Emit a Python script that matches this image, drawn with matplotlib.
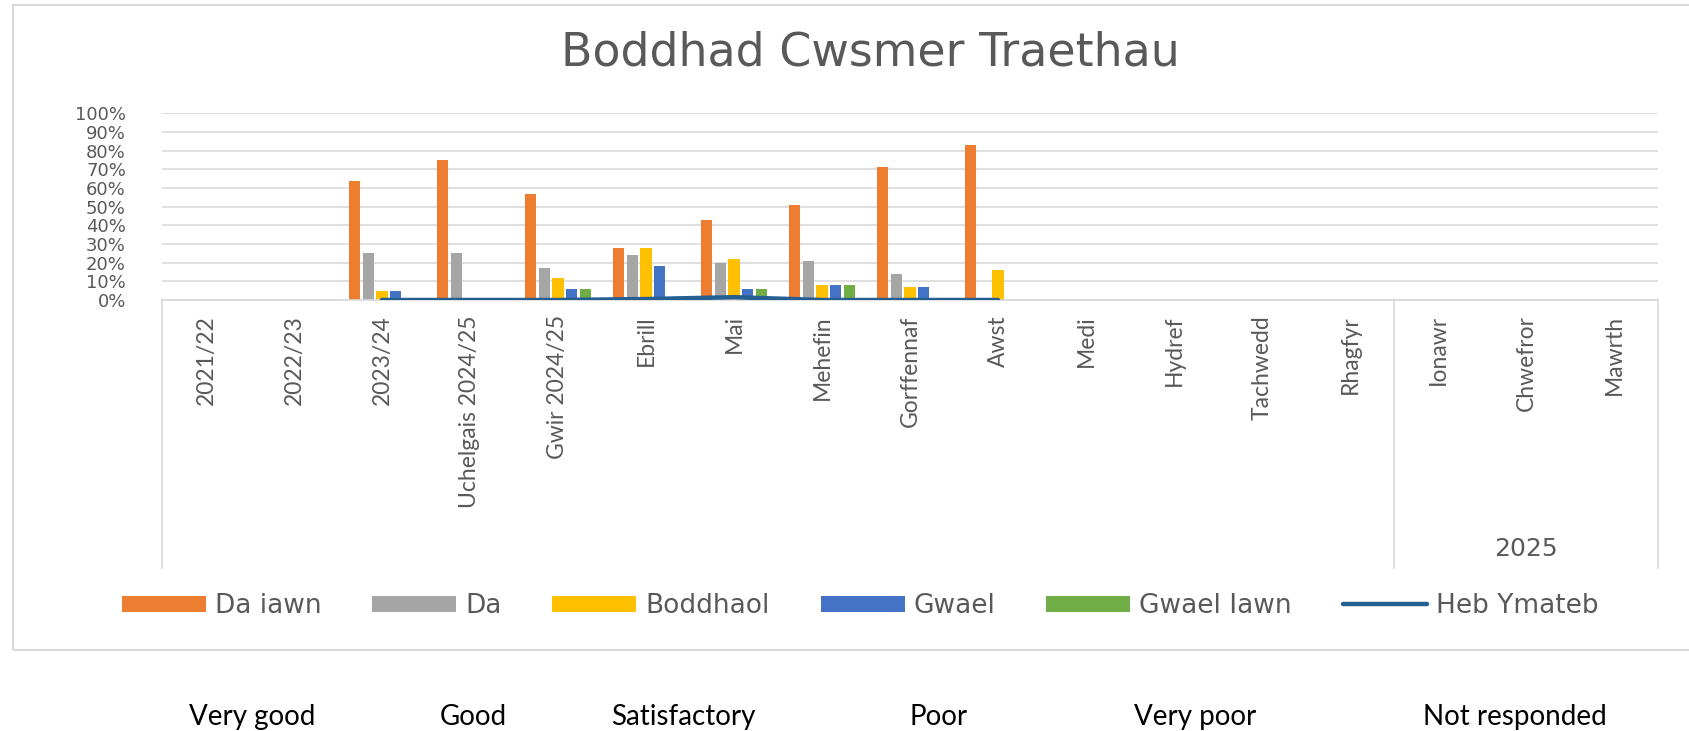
import numpy as np
import matplotlib
matplotlib.use("Agg")
import matplotlib.pyplot as plt
from matplotlib.patches import Rectangle
from matplotlib.transforms import blended_transform_factory

# ---------------- data ----------------
categories = ['2021/22', '2022/23', '2023/24', 'Uchelgais 2024/25', 'Gwir 2024/25',
              'Ebrill', 'Mai', 'Mehefin', 'Gorffennaf', 'Awst', 'Medi', 'Hydref',
              'Tachwedd', 'Rhagfyr', 'Ionawr', 'Chwefror', 'Mawrth']
nan = np.nan
da_iawn    = [nan, nan, 64, 75, 57, 28, 43, 51, 71, 83, nan, nan, nan, nan, nan, nan, nan]
da         = [nan, nan, 25, 25, 17, 24, 20, 21, 14, 0, nan, nan, nan, nan, nan, nan, nan]
boddhaol   = [nan, nan, 5, 0, 12, 28, 22, 8, 7, 16, nan, nan, nan, nan, nan, nan, nan]
gwael      = [nan, nan, 5, 0, 6, 18, 6, 8, 7, 0, nan, nan, nan, nan, nan, nan, nan]
gwael_iawn = [nan, nan, 0, 0, 6, 0, 6, 8, 0, 0, nan, nan, nan, nan, nan, nan, nan]
heb_ymateb = [nan, nan, 0, 0, 0, 0.5, 1.5, 0, 0, 0, nan, nan, nan, nan, nan, nan, nan]

bar_series = ['Da iawn', 'Da', 'Boddhaol', 'Gwael', 'Gwael Iawn']
line_series = 'Heb Ymateb'
yticks = [0, 10, 20, 30, 40, 50, 60, 70, 80, 90, 100]
ytick_labels = [f'{v}%' for v in yticks]
group_label = '2025'
group_start = 14  # index of 'Ionawr'
title = 'Boddhad Cwsmer Traethau'
english_labels = ['Very good', 'Good', 'Satisfactory', 'Poor', 'Very poor', 'Not responded']

# ---------------- style ----------------
colors = ['#ED7D31', '#A5A5A5', '#FFC000', '#4472C4', '#70AD47']
line_color = '#255E91'
grid_color = '#D9D9D9'
text_gray = '#595959'
narrow = ['Lato', 'DejaVu Sans']

W, H = 1690, 731
fig = plt.figure(figsize=(W / 100, H / 100), dpi=100)
ax = fig.add_axes([162 / W, (H - 300) / H, 1496 / W, 186.7 / H])

x = np.arange(len(categories))
pitch = 0.156
all_bars = [da_iawn, da, boddhaol, gwael, gwael_iawn]
bar_handles = []
for k, (name, vals, c) in enumerate(zip(bar_series, all_bars, colors)):
    b = ax.bar(x + (k - 2) * pitch, vals, width=0.13, color=c, label=name, zorder=2)
    bar_handles.append(b)
line_handle, = ax.plot(x, heb_ymateb, color=line_color, lw=3.2, solid_capstyle='round',
                       label=line_series, zorder=3)

ax.set_xlim(-0.5, len(categories) - 0.5)
ax.set_ylim(0, 100)
ax.set_yticks(yticks, ytick_labels)
ax.yaxis.grid(True, color=grid_color, lw=1.2, zorder=0)
ax.set_axisbelow(True)
for s in ['top', 'right', 'left']:
    ax.spines[s].set_visible(False)
ax.spines['bottom'].set_color(grid_color)
ax.spines['bottom'].set_linewidth(1.2)
ax.tick_params(axis='y', length=0, pad=26, labelsize=13, labelcolor=text_gray)
ax.set_xticks(x, categories, rotation=90, fontsize=16.5, color=text_gray,
              family=narrow, va='top', ha='center')
ax.tick_params(axis='x', length=0, pad=11)

# multi-level category axis boundaries
trans = blended_transform_factory(ax.transData, ax.transAxes)
ybot = -(568 - 300) / 186.7
for xb in [-0.5, group_start - 0.5, len(categories) - 0.5]:
    ax.plot([xb, xb], [0, ybot], transform=trans, clip_on=False,
            color=grid_color, lw=1.2)
ax.text((group_start + len(categories) - 1) / 2, -(549 - 300) / 186.7, group_label,
        transform=trans, ha='center', va='center', fontsize=18, color=text_gray)

# title
fig.text(870 / W, (H - 66) / H, title, ha='center', va='baseline',
         fontsize=33, color=text_gray)

# legend (bars first, line last)
handles = bar_handles + [line_handle]
labels = bar_series + [line_series]
fig.legend(handles, labels, loc='center', bbox_to_anchor=(860 / W, (H - 606) / H),
           ncol=6, frameon=False, fontsize=19, handlelength=3.18, handleheight=0.57,
           handletextpad=0.34, columnspacing=1.93, labelcolor=text_gray)

# chart frame
fig.add_artist(Rectangle((13 / W, (H - 650) / H), (W + 20 - 13) / W, (650 - 5) / H,
                         transform=fig.transFigure, fill=False,
                         edgecolor=grid_color, lw=1.5))

# English translations below
eng_x = [252, 473, 683, 939, 1195, 1515]
for lab, px in zip(english_labels, eng_x):
    fig.text(px / W, (H - 717) / H, lab, ha='center', va='center',
             fontsize=20, color='black', family=narrow)

fig.savefig('out.png', dpi=100)
